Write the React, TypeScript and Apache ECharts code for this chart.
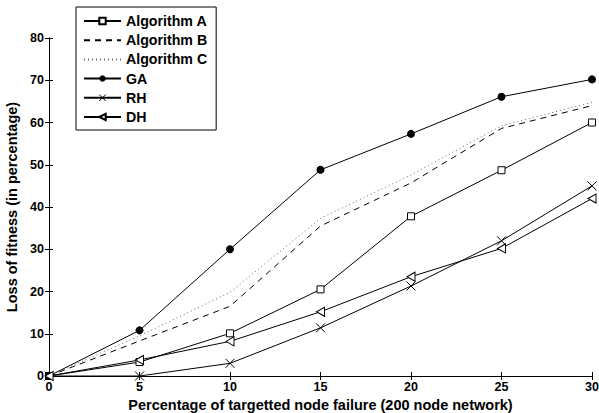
import React, { useEffect, useRef } from "react";
import * as echarts from "echarts";

const xValues = [0, 5, 10, 15, 20, 25, 30];
const algorithmA = [0, 3.3, 10.1, 20.5, 37.8, 48.7, 60];
const algorithmB = [0, 8.3, 16.5, 35.5, 45.7, 58.6, 64];
const algorithmC = [0, 9.5, 19.8, 37.3, 47.6, 59.2, 64.8];
const ga = [0, 10.8, 30, 48.8, 57.3, 66.1, 70.2];
const rh = [0, 0, 3, 11.4, 21.3, 32, 45];
const dh = [0, 3.8, 8.2, 15.2, 23.5, 30.2, 42];
const seriesNames = ["Algorithm A", "Algorithm B", "Algorithm C", "GA", "RH", "DH"];

const pairs = (ys: number[]) => xValues.map((x, i) => [x, ys[i]]);

const font = "Liberation Sans, Arial, Helvetica, sans-serif";

export default function App() {
  const ref = useRef<HTMLDivElement>(null);
  useEffect(() => {
    const chart = echarts.init(ref.current!, null, { renderer: "svg" });
    const axisLine = { show: true, lineStyle: { color: "#000", width: 1 } };
    const tickStyle = { show: true, inside: true, length: 4, lineStyle: { color: "#000" } };
    const labelStyle = { color: "#000", fontWeight: "bold" as const, fontSize: 12.5, fontFamily: font };
    const nameStyle = { color: "#000", fontWeight: "bold" as const, fontSize: 14.5, fontFamily: font };
    chart.setOption({
      animation: false,
      backgroundColor: "#fff",
      grid: { left: 49, right: 7, top: 38, bottom: 37, outerBoundsMode: "none", containLabel: false },
      legend: {
        orient: "vertical",
        left: 76,
        top: 7,
        backgroundColor: "#fff",
        borderColor: "#000",
        borderWidth: 1,
        borderRadius: 0,
        padding: [7, 9, 6, 7],
        itemGap: 5.2,
        itemWidth: 37,
        itemHeight: 8,
        textStyle: { color: "#000", fontWeight: "bold", fontSize: 14.2, fontFamily: font },
        data: seriesNames.map((name) =>
          name === "Algorithm B" || name === "Algorithm C"
            ? { name, itemStyle: { opacity: 0 } }
            : name === "RH"
            ? { name, itemStyle: { borderWidth: 1 } }
            : { name }
        ),
      },
      xAxis: [
        {
          type: "value",
          min: 0,
          max: 30,
          interval: 5,
          position: "bottom",
          axisLine,
          axisTick: tickStyle,
          axisLabel: { ...labelStyle, margin: 4 },
          splitLine: { show: false },
          name: "Percentage of targetted node failure (200 node network)",
          nameLocation: "middle",
          nameGap: 15,
          nameTextStyle: nameStyle,
        },
        {
          type: "value",
          min: 0,
          max: 30,
          interval: 5,
          position: "top",
          axisLine,
          axisTick: tickStyle,
          axisLabel: { show: false },
          splitLine: { show: false },
        },
      ],
      yAxis: [
        {
          type: "value",
          min: 0,
          max: 80,
          interval: 10,
          position: "left",
          axisLine,
          axisTick: tickStyle,
          axisLabel: { ...labelStyle, margin: 5 },
          splitLine: { show: false },
          name: "Loss of fitness (in percentage)",
          nameLocation: "middle",
          nameGap: 23,
          nameTextStyle: nameStyle,
        },
        {
          type: "value",
          min: 0,
          max: 80,
          interval: 10,
          position: "right",
          axisLine,
          axisTick: tickStyle,
          axisLabel: { show: false },
          splitLine: { show: false },
        },
      ],
      series: [
        {
          name: seriesNames[0],
          type: "line",
          data: pairs(algorithmA),
          symbol: "rect",
          symbolSize: 7,
          clip: false,
          lineStyle: { color: "#000", width: 1 },
          itemStyle: { color: "#fff", borderColor: "#000", borderWidth: 1 },
        },
        {
          name: seriesNames[1],
          type: "line",
          data: pairs(algorithmB),
          symbol: "none",
          clip: false,
          lineStyle: { color: "#000", width: 1, type: [6, 5] },
          itemStyle: { color: "#000" },
        },
        {
          name: seriesNames[2],
          type: "line",
          data: pairs(algorithmC),
          symbol: "none",
          clip: false,
          lineStyle: { color: "#666", width: 1, type: [1, 3] },
          itemStyle: { color: "#666" },
        },
        {
          name: seriesNames[3],
          type: "line",
          data: pairs(ga),
          symbol: "circle",
          symbolSize: 8,
          clip: false,
          lineStyle: { color: "#000", width: 1 },
          itemStyle: { color: "#000" },
        },
        {
          name: seriesNames[4],
          type: "line",
          data: pairs(rh),
          symbol: "path://M0,0L10,10M10,0L0,10",
          symbolSize: 9,
          clip: false,
          lineStyle: { color: "#000", width: 1 },
          itemStyle: { color: "none", borderColor: "#000", borderWidth: 1 },
        },
        {
          name: seriesNames[5],
          type: "line",
          data: pairs(dh),
          symbol: "path://M0,5L10,0L10,10Z",
          symbolSize: [8, 9],
          clip: false,
          lineStyle: { color: "#000", width: 1 },
          itemStyle: { color: "#fff", borderColor: "#000", borderWidth: 1 },
        },
      ],
    });
    return () => chart.dispose();
  }, []);
  return <div ref={ref} style={{ width: 599, height: 413, position: "absolute", left: 0, top: 0 }} />;
}
